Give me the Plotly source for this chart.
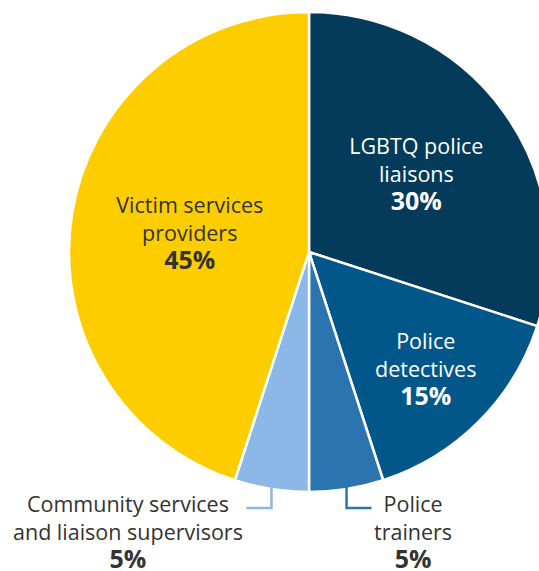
import math
import plotly.graph_objects as go

# ---- data ----
labels = ["LGBTQ police liaisons", "Police detectives", "Police trainers",
          "Community services and liaison supervisors", "Victim services providers"]
label_lines = ["LGBTQ police<br>liaisons", "Police<br>detectives", "Police<br>trainers",
               "Community services<br>and liaison supervisors", "Victim services<br>providers"]
values = [30, 15, 5, 5, 45]
colors = ["#043a5a", "#02578a", "#2b74b0", "#8cb8e8", "#fecd00"]
inside = [True, True, False, False, True]
inside_text_colors = ["#ffffff", "#ffffff", "#ffffff", "#ffffff", "#333333"]

# ---- layout geometry (pixels) ----
W, H = 600, 571
CX, CY, R = 309, 252, 240
FONT = "Open Sans"
TXT = 21.5
PCT = 25


def px(x):
    return x / W


def py(y):
    return 1 - y / H


texts = []
for lab, v, ins in zip(label_lines, values, inside):
    if ins:
        texts.append(f"{lab}<br><span style='font-size:{PCT}px'><b>{v}%</b></span>")
    else:
        texts.append("")

fig = go.Figure(go.Pie(
    labels=labels,
    values=values,
    text=texts,
    texttemplate="%{text}",
    textinfo="text",
    textposition=["inside" if i else "none" for i in inside],
    insidetextorientation="horizontal",
    insidetextfont=dict(family=FONT, size=TXT, color=inside_text_colors),
    marker=dict(colors=colors, line=dict(color="#ffffff", width=2.5)),
    sort=False,
    direction="clockwise",
    rotation=0,
    hole=0,
    showlegend=False,
    domain=dict(x=[px(CX - R), px(CX + R)], y=[py(CY + R), py(CY - R)]),
))

# outside labels for small slices with elbow connectors
total = sum(values)
cum = 0
annotations = []
shapes = []
for lab, v, ins, col in zip(label_lines, values, inside, colors):
    mid = (cum + v / 2) / total * 2 * math.pi
    cum += v
    if ins:
        continue
    sx = CX + R * math.sin(mid)
    sy = CY - R * math.cos(mid)
    side = 1 if math.sin(mid) > 0 else -1
    ey = sy + 19
    ex = sx + side * 25
    shapes.append(dict(type="path", xref="paper", yref="paper",
                       path=f"M {px(sx)} {py(sy - 2)} L {px(sx)} {py(ey)} L {px(ex)} {py(ey)}",
                       line=dict(color=col, width=2.5)))
    tx = 413 if side > 0 else 128
    annotations.append(dict(
        x=px(tx), y=py(487), xref="paper", yref="paper",
        xanchor="center", yanchor="top", align="center", showarrow=False,
        text=f"{lab}<br><span style='font-size:{PCT}px'><b>{v}%</b></span>",
        font=dict(family=FONT, size=TXT, color="#333333"),
    ))

fig.update_layout(
    width=W, height=H,
    margin=dict(l=0, r=0, t=0, b=0),
    paper_bgcolor="#ffffff",
    plot_bgcolor="#ffffff",
    annotations=annotations,
    shapes=shapes,
)

fig.write_html("out.html", post_script=(
    "document.documentElement.style.overflow='hidden';"
    "document.body.style.overflow='hidden';document.body.style.margin='0';"
))
